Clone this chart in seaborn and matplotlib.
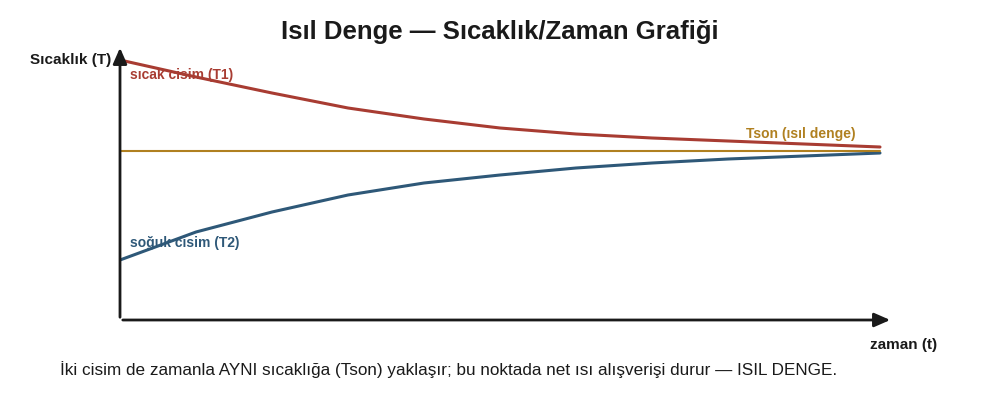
import matplotlib
matplotlib.use("Agg")
import matplotlib.pyplot as plt
import seaborn as sns
import pandas as pd

t = [0, 1, 2, 3, 4, 5, 6, 7, 8, 9, 10]
hot = [260, 243, 227, 212, 201, 192, 186, 182, 179, 176, 173]
cold = [60, 88, 108, 125, 137, 145, 152, 157, 161, 164, 167]
t_son = 169

sns.set_theme(style="white")
plt.rcParams['font.family'] = ['Liberation Sans', 'DejaVu Sans']

fig = plt.figure(figsize=(10, 4), dpi=100)
ax = fig.add_axes([0.12, 0.2, 0.773, 0.6875])
df = pd.DataFrame({"t": t, "hot": hot, "cold": cold})
sns.lineplot(data=df, x="t", y="hot", ax=ax, color="#a83c32", lw=2.2)
sns.lineplot(data=df, x="t", y="cold", ax=ax, color="#2e5878", lw=2.2)
ax.plot([0, 10], [t_son, t_son], color="#b08020", lw=1.5)
ax.set_xlim(0, 773/76)
ax.set_ylim(0, 275)
for s in ax.spines.values():
    s.set_visible(False)
ax.set_xticks([]); ax.set_yticks([])
ax.set_xlabel(""); ax.set_ylabel("")
ax.annotate("", xy=(1, 0), xytext=(0, 0), xycoords="axes fraction",
            arrowprops=dict(arrowstyle="-|>,head_width=0.35,head_length=0.8", color="#1a1a1a", lw=2))
ax.annotate("", xy=(0, 1), xytext=(0, 0), xycoords="axes fraction",
            arrowprops=dict(arrowstyle="-|>,head_width=0.35,head_length=0.8", color="#1a1a1a", lw=2))

def px(x, y):
    return x/1000, 1 - y/400

fig.text(*px(500, 32), "Isıl Denge — Sıcaklık/Zaman Grafiği", ha="center", va="center",
         fontsize=18.5, fontweight="bold", color="#1a1a1a")
fig.text(*px(30, 60), "Sıcaklık (T)", ha="left", va="center", fontsize=11, fontweight="bold", color="#1a1a1a")
fig.text(*px(870, 345), "zaman (t)", ha="left", va="center", fontsize=11, fontweight="bold", color="#1a1a1a")
fig.text(*px(60, 370), "İki cisim de zamanla AYNI sıcaklığa (Tson) yaklaşır; bu noktada net ısı alışverişi durur — ISIL DENGE.",
         ha="left", va="center", fontsize=12.3, color="#1a1a1a")
fig.text(*px(130, 75), "sıcak cisim (T1)", ha="left", va="center", fontsize=10, fontweight="bold", color="#a83c32")
fig.text(*px(130, 243), "soğuk cisim (T2)", ha="left", va="center", fontsize=10, fontweight="bold", color="#2e5878")
fig.text(*px(856, 134), "Tson (ısıl denge)", ha="right", va="center", fontsize=10, fontweight="bold", color="#b08020")

fig.savefig("out.png", dpi=100, facecolor="white")
